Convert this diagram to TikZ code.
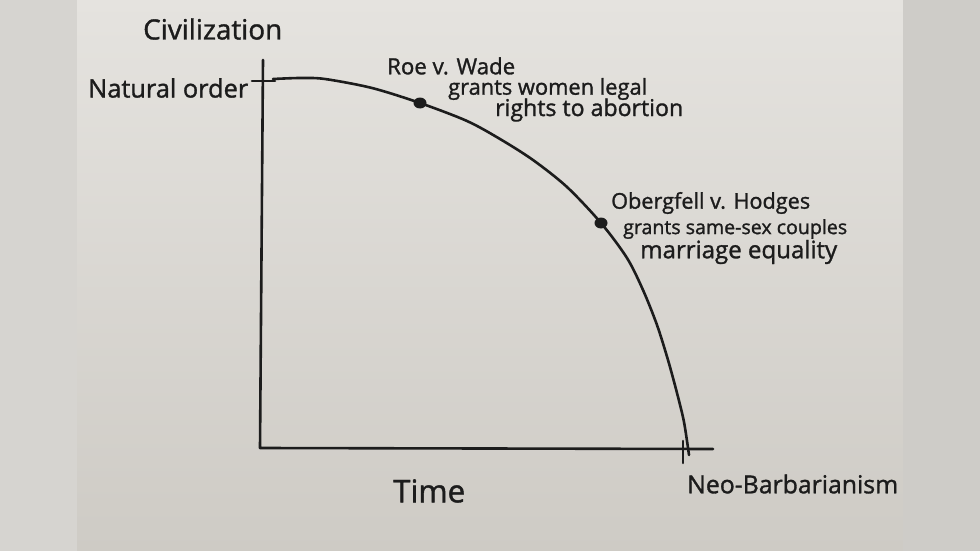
\documentclass[tikz,border=0pt]{standalone}
\usepackage{fontspec}
\usepackage{graphicx}
\setmainfont{Open Sans}
\newfontfamily\hand{Open Sans}[FakeBold=1.3]
\definecolor{paperTop}{RGB}{229,227,223}
\definecolor{paperBot}{RGB}{206,203,197}
\definecolor{sideL}{RGB}{214,212,208}
\definecolor{sideR}{RGB}{206,204,200}
\definecolor{ink}{RGB}{28,28,28}
\newcommand{\hw}[2]{\resizebox{#1pt}{!}{\hand #2}}
\tikzset{
  inkline/.style={draw=ink, line width=2.6pt, line cap=round, line join=round},
  lab/.style={text=ink, anchor=west, inner sep=0pt, font=\fontsize{18}{20}\selectfont},
  dot/.style={ellipse, fill=ink, minimum width=13pt, minimum height=11pt, inner sep=0pt},
}
\usetikzlibrary{shapes.geometric}
\begin{document}
\begin{tikzpicture}[x=1pt,y=-1pt]
\useasboundingbox (0,0) rectangle (980,551);
\shade[top color=paperTop, bottom color=paperBot] (77,0) rectangle (903,551);
\fill[sideL] (0,0) rectangle (77,551);
\fill[sideR] (903,0) rectangle (980,551);

% axes
\coordinate (ytop) at (263,60);
\coordinate (orig) at (260,448);
\coordinate (xend) at (713,449);
\draw[inkline] (ytop) -- (orig) -- (xend);
% ticks
\coordinate (tyl) at (252,81);
\coordinate (tyr) at (275,81);
\draw[inkline] (tyl) -- (tyr);
\coordinate (txt) at (683,441);
\coordinate (txb) at (683,463);
\draw[inkline] (txt) -- (txb);

% curve
\draw[inkline] plot[smooth, tension=0.5] coordinates {(273,79) (300,78) (325,79) (372,88) (420,103) (467,121) (500,139) (533,160) (567,187) (601,223) (627,258) (643,290) (657,325) (668,360) (677,393) (684,422) (689,455)};

\node[dot] (roe) at (420,103) {};
\node[dot] (ober) at (601,223) {};

% labels
\node[lab] (civ) at (143,29) {\hw{139}{Civilization}};
\node[lab] (nat) at (88,88) {\hw{160}{Natural order}};
\node[lab] (roet) at (387,66) {\hw{128}{Roe v. Wade}};
\node[lab] (roe2) at (448,89) {\hw{199}{grants women legal}};
\node[lab] (roe3) at (495,110) {\hw{188}{rights to abortion}};
\node[lab] (obt) at (611,203) {\hw{199}{Obergfell v. Hodges}};
\node[lab] (ob2) at (623,229) {\hw{224}{grants same-sex couples}};
\node[lab] (ob3) at (640,252) {\hw{197}{marriage equality}};
\node[lab] (time) at (393,491) {\hw{72}{Time}};
\node[lab] (neo) at (687,484) {\hw{211}{Neo-Barbarianism}};
\end{tikzpicture}
\end{document}
